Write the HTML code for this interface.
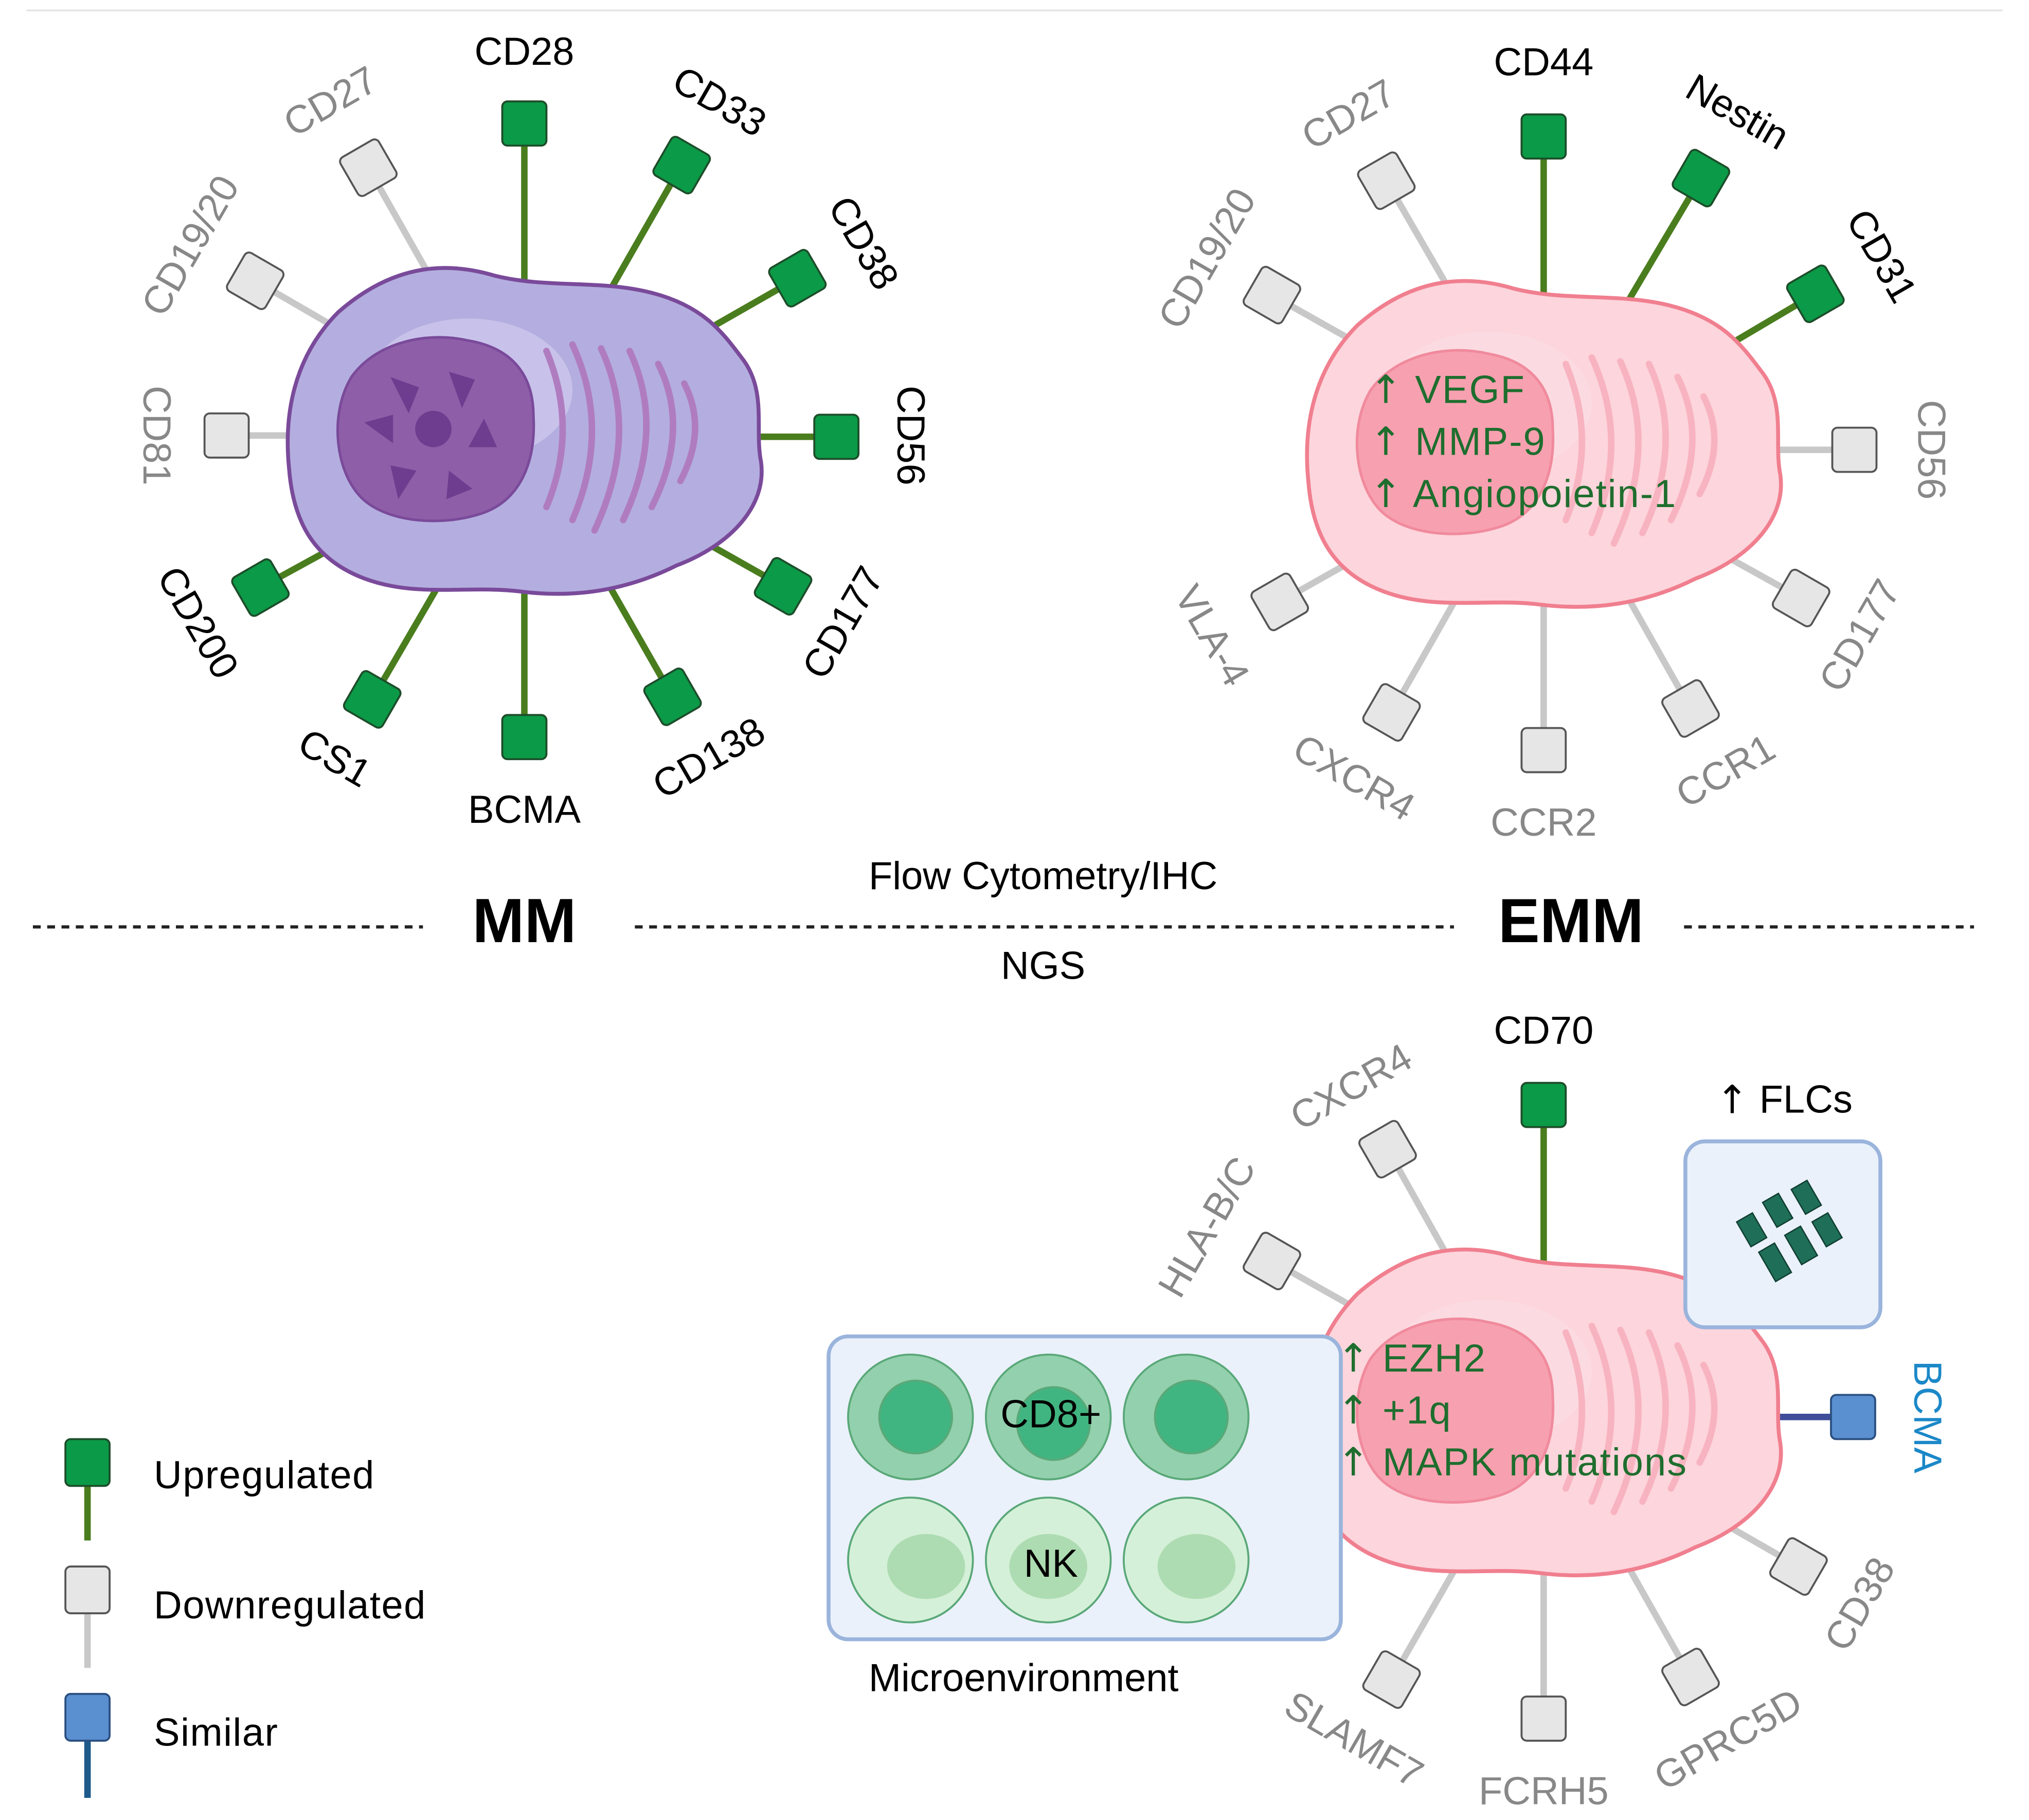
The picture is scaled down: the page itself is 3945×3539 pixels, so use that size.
<!DOCTYPE html>
<html><head><meta charset="utf-8"><style>
html,body{margin:0;padding:0;background:#fff;}
svg{display:block;}
text{font-family:"Liberation Sans",sans-serif;}
.ar{font-family:"DejaVu Sans",sans-serif;}
</style></head><body>
<svg width="3945" height="3539" viewBox="0 0 1560 1400" xmlns="http://www.w3.org/2000/svg">
<defs>
<path id="blob" d="M 260,240 C 300,205 340,200 380,212 C 420,222 460,215 500,225 C 540,235 555,255 570,275 C 590,300 580,330 585,355 C 590,390 560,420 520,435 C 480,455 440,460 400,455 C 360,450 320,460 280,445 C 240,430 225,400 222,360 C 218,320 225,275 260,240 Z"/>
<path id="nuc" d="M 270,290 C 290,262 330,255 360,262 C 395,268 410,290 410,320 C 412,355 400,385 370,395 C 340,405 300,402 280,385 C 258,366 252,320 270,290 Z"/>
<g id="er">
<path d="M420,270 q25,60 0,120" /><path d="M440,265 q30,65 0,135" /><path d="M462,268 q30,65 -5,140" /><path d="M484,270 q28,60 -5,130" /><path d="M506,280 q25,50 -5,110" /><path d="M526,295 q18,35 -3,75" />
</g>
</defs>
<rect width="1560" height="1400" fill="#fff"/>
<line x1="20" y1="8" x2="1540" y2="8" stroke="#e6e6e6" stroke-width="1.5"/>

<g stroke-width="5">
<line x1="403" y1="95" x2="403" y2="215" stroke="#4a7d1e"/>
<line x1="524" y1="127" x2="468" y2="225" stroke="#4a7d1e"/>
<line x1="613" y1="214" x2="550" y2="250" stroke="#4a7d1e"/>
<line x1="643" y1="336" x2="580" y2="336" stroke="#4a7d1e"/>
<line x1="602" y1="451" x2="540" y2="416" stroke="#4a7d1e"/>
<line x1="517" y1="536" x2="468" y2="450" stroke="#4a7d1e"/>
<line x1="403" y1="567" x2="403" y2="450" stroke="#4a7d1e"/>
<line x1="286" y1="538" x2="336" y2="452" stroke="#4a7d1e"/>
<line x1="200" y1="452" x2="262" y2="418" stroke="#4a7d1e"/>
<line x1="174" y1="335" x2="230" y2="335" stroke="#c8c8c8"/>
<line x1="196" y1="216" x2="258" y2="252" stroke="#c8c8c8"/>
<line x1="283" y1="129" x2="330" y2="212" stroke="#c8c8c8"/>
</g>
<use href="#blob" fill="#b3aedf" stroke="#7a4a9a" stroke-width="3"/>
<ellipse cx="360" cy="300" rx="80" ry="55" fill="#c8c2ea"/>
<use href="#nuc" fill="#8e5fa8" stroke="#7a4a9a" stroke-width="2"/>
<g fill="#6e3d8f"><circle cx="333" cy="330" r="14"/>
<path d="M300,290 l22,8 l-8,20 z"/><path d="M345,286 l20,6 l-10,22 z"/><path d="M372,322 l10,22 l-22,0 z"/><path d="M345,362 l18,14 l-20,8 z"/><path d="M300,358 l20,4 l-14,22 z"/><path d="M280,325 l22,-6 l0,22 z"/></g>
<g fill="none" stroke="#b07cc0" stroke-width="5" stroke-linecap="round"><use href="#er"/></g>

<g stroke-width="1.5">
<rect x="386" y="78" width="34" height="34" rx="4" fill="#0b9a47" stroke="#1d4d2a"/>
<rect x="507" y="110" width="34" height="34" rx="4" fill="#0b9a47" stroke="#1d4d2a" transform="rotate(30 524 127)"/>
<rect x="596" y="197" width="34" height="34" rx="4" fill="#0b9a47" stroke="#1d4d2a" transform="rotate(60 613 214)"/>
<rect x="626" y="319" width="34" height="34" rx="4" fill="#0b9a47" stroke="#1d4d2a"/>
<rect x="585" y="434" width="34" height="34" rx="4" fill="#0b9a47" stroke="#1d4d2a" transform="rotate(-60 602 451)"/>
<rect x="500" y="519" width="34" height="34" rx="4" fill="#0b9a47" stroke="#1d4d2a" transform="rotate(-30 517 536)"/>
<rect x="386" y="550" width="34" height="34" rx="4" fill="#0b9a47" stroke="#1d4d2a"/>
<rect x="269" y="521" width="34" height="34" rx="4" fill="#0b9a47" stroke="#1d4d2a" transform="rotate(30 286 538)"/>
<rect x="183" y="435" width="34" height="34" rx="4" fill="#0b9a47" stroke="#1d4d2a" transform="rotate(60 200 452)"/>
<rect x="157" y="318" width="34" height="34" rx="4" fill="#e6e6e6" stroke="#555"/>
<rect x="179" y="199" width="34" height="34" rx="4" fill="#e6e6e6" stroke="#555" transform="rotate(-60 196 216)"/>
<rect x="266" y="112" width="34" height="34" rx="4" fill="#e6e6e6" stroke="#555" transform="rotate(-30 283 129)"/>
</g>
<g font-size="30" text-anchor="middle" dominant-baseline="middle">
<text x="403" y="42">CD28</text>
<text x="552" y="80" transform="rotate(30 552 80)">CD33</text>
<text x="662" y="188" transform="rotate(60 662 188)">CD38</text>
<text x="698" y="335" transform="rotate(90 698 335)">CD56</text>
<text x="650" y="480" transform="rotate(-60 650 480)">CD177</text>
<text x="546" y="585" transform="rotate(-30 546 585)">CD138</text>
<text x="403" y="625">BCMA</text>
<text x="256" y="585" transform="rotate(30 256 585)">CS1</text>
<text x="150" y="480" transform="rotate(60 150 480)">CD200</text>
<g fill="#888"><text x="118" y="335" transform="rotate(90 118 335)">CD81</text>
<text x="148" y="190" transform="rotate(-60 148 190)">CD19/20</text>
<text x="255" y="80" transform="rotate(-30 255 80)">CD27</text></g>
</g>

<g stroke-width="5">
<line x1="1187" y1="105" x2="1187" y2="225" stroke="#4a7d1e"/>
<line x1="1308" y1="137" x2="1250" y2="235" stroke="#4a7d1e"/>
<line x1="1396" y1="226" x2="1335" y2="262" stroke="#4a7d1e"/>
<g stroke="#c8c8c8">
<line x1="1426" y1="346" x2="1365" y2="346"/>
<line x1="1385" y1="460" x2="1322" y2="425"/>
<line x1="1300" y1="545" x2="1252" y2="460"/>
<line x1="1187" y1="577" x2="1187" y2="460"/>
<line x1="1070" y1="548" x2="1120" y2="460"/>
<line x1="984" y1="463" x2="1046" y2="428"/>
<line x1="978" y1="227" x2="1040" y2="262"/>
<line x1="1066" y1="139" x2="1114" y2="222"/></g>
</g>
<g transform="translate(784,10)">
<use href="#blob" fill="#fdd5dc" stroke="#f07f8f" stroke-width="3"/>
<ellipse cx="360" cy="300" rx="80" ry="55" fill="#fbdbe1"/>
<use href="#nuc" fill="#f7a0b0" stroke="#f08a9c" stroke-width="2"/>
<g fill="none" stroke="#f8b3c0" stroke-width="5" stroke-linecap="round"><use href="#er"/></g>
</g>
<g stroke-width="1.5">
<rect x="1170" y="88" width="34" height="34" rx="4" fill="#0b9a47" stroke="#1d4d2a"/>
<rect x="1291" y="120" width="34" height="34" rx="4" fill="#0b9a47" stroke="#1d4d2a" transform="rotate(30 1308 137)"/>
<rect x="1379" y="209" width="34" height="34" rx="4" fill="#0b9a47" stroke="#1d4d2a" transform="rotate(60 1396 226)"/>
<g fill="#e6e6e6" stroke="#555">
<rect x="1409" y="329" width="34" height="34" rx="4"/>
<rect x="1368" y="443" width="34" height="34" rx="4" transform="rotate(-60 1385 460)"/>
<rect x="1283" y="528" width="34" height="34" rx="4" transform="rotate(-30 1300 545)"/>
<rect x="1170" y="560" width="34" height="34" rx="4"/>
<rect x="1053" y="531" width="34" height="34" rx="4" transform="rotate(30 1070 548)"/>
<rect x="967" y="446" width="34" height="34" rx="4" transform="rotate(60 984 463)"/>
<rect x="961" y="210" width="34" height="34" rx="4" transform="rotate(-60 978 227)"/>
<rect x="1049" y="122" width="34" height="34" rx="4" transform="rotate(-30 1066 139)"/></g>
</g>
<g font-size="30" text-anchor="middle" dominant-baseline="middle">
<text x="1187" y="50">CD44</text>
<text x="1335" y="88" transform="rotate(30 1335 88)">Nestin</text>
<text x="1445" y="198" transform="rotate(60 1445 198)">CD31</text>
<g fill="#888">
<text x="1483" y="346" transform="rotate(90 1483 346)">CD56</text>
<text x="1432" y="490" transform="rotate(-60 1432 490)">CD177</text>
<text x="1328" y="595" transform="rotate(-30 1328 595)">CCR1</text>
<text x="1187" y="635">CCR2</text>
<text x="1040" y="600" transform="rotate(30 1040 600)">CXCR4</text>
<text x="930" y="490" transform="rotate(60 930 490)">VLA-4</text>
<text x="930" y="200" transform="rotate(-60 930 200)">CD19/20</text>
<text x="1038" y="90" transform="rotate(-30 1038 90)">CD27</text></g>
</g>
<g font-size="30" fill="#1e6e2e" letter-spacing="0.8">
<text x="1053" y="310"><tspan class="ar">↑</tspan> VEGF</text><text x="1053" y="350"><tspan class="ar">↑</tspan> MMP-9</text><text x="1053" y="390"><tspan class="ar">↑</tspan> Angiopoietin-1</text>
</g>

<g stroke="#222" stroke-width="2.5" stroke-dasharray="6,5">
<line x1="25" y1="713" x2="325" y2="713"/><line x1="488" y1="713" x2="1118" y2="713"/><line x1="1295" y1="713" x2="1518" y2="713"/></g>
<g text-anchor="middle" dominant-baseline="middle">
<text x="802" y="676" font-size="30">Flow Cytometry/IHC</text>
<text x="802" y="745" font-size="30">NGS</text>
<text x="403" y="712" font-size="48" font-weight="bold">MM</text>
<text x="1208" y="712" font-size="48" font-weight="bold">EMM</text>
</g>

<g stroke-width="5">
<line x1="1187" y1="850" x2="1187" y2="975" stroke="#4a7d1e"/>
<line x1="1425" y1="1090" x2="1365" y2="1090" stroke="#3f4d9a"/>
<g stroke="#c8c8c8">
<line x1="1067" y1="884" x2="1114" y2="968"/>
<line x1="978" y1="970" x2="1040" y2="1005"/>
<line x1="1383" y1="1205" x2="1322" y2="1170"/>
<line x1="1300" y1="1290" x2="1252" y2="1205"/>
<line x1="1187" y1="1322" x2="1187" y2="1205"/>
<line x1="1070" y1="1292" x2="1120" y2="1205"/></g>
</g>
<g transform="translate(784,755)">
<use href="#blob" fill="#fdd5dc" stroke="#f07f8f" stroke-width="3"/>
<ellipse cx="360" cy="300" rx="80" ry="55" fill="#fbdbe1"/>
<use href="#nuc" fill="#f7a0b0" stroke="#f08a9c" stroke-width="2"/>
<g fill="none" stroke="#f8b3c0" stroke-width="5" stroke-linecap="round"><use href="#er"/></g>
</g>
<g stroke-width="1.5">
<rect x="1170" y="833" width="34" height="34" rx="4" fill="#0b9a47" stroke="#1d4d2a"/>
<rect x="1408" y="1073" width="34" height="34" rx="4" fill="#5a8fd0" stroke="#2a4f80"/>
<g fill="#e6e6e6" stroke="#555">
<rect x="1050" y="867" width="34" height="34" rx="4" transform="rotate(-30 1067 884)"/>
<rect x="961" y="953" width="34" height="34" rx="4" transform="rotate(-60 978 970)"/>
<rect x="1366" y="1188" width="34" height="34" rx="4" transform="rotate(-60 1383 1205)"/>
<rect x="1283" y="1273" width="34" height="34" rx="4" transform="rotate(-30 1300 1290)"/>
<rect x="1170" y="1305" width="34" height="34" rx="4"/>
<rect x="1053" y="1275" width="34" height="34" rx="4" transform="rotate(30 1070 1292)"/></g>
</g>
<g font-size="30" text-anchor="middle" dominant-baseline="middle">
<text x="1187" y="795">CD70</text>
<text x="1480" y="1090" fill="#1b88c8" transform="rotate(90 1480 1090)">BCMA</text>
<g fill="#888">
<text x="1040" y="838" transform="rotate(-30 1040 838)">CXCR4</text>
<text x="930" y="945" transform="rotate(-60 930 945)">HLA-B/C</text>
<text x="1432" y="1235" transform="rotate(-60 1432 1235)">CD38</text>
<text x="1330" y="1340" transform="rotate(-30 1330 1340)">GPRC5D</text>
<text x="1187" y="1380">FCRH5</text>
<text x="1040" y="1340" transform="rotate(30 1040 1340)">SLAMF7</text></g>
<text x="1372" y="848"><tspan class="ar">↑</tspan> FLCs</text>
<text x="787" y="1293">Microenvironment</text>
</g>
<g font-size="30" fill="#1e6e2e" letter-spacing="0.8">
<text x="1028" y="1055"><tspan class="ar">↑</tspan> EZH2</text><text x="1028" y="1095"><tspan class="ar">↑</tspan> +1q</text><text x="1028" y="1135"><tspan class="ar">↑</tspan> MAPK mutations</text>
</g>

<rect x="1296" y="878" width="150" height="143" rx="15" fill="#eaf1fb" stroke="#9ab4dc" stroke-width="3"/>
<g fill="#1f6e58" stroke="#0f3d30" stroke-width="1">
<rect x="1340" y="935" width="14" height="22" transform="rotate(-30 1347 946)"/>
<rect x="1358" y="958" width="14" height="26" transform="rotate(-30 1365 971)"/>
<rect x="1360" y="920" width="14" height="22" transform="rotate(-30 1367 931)"/>
<rect x="1378" y="945" width="14" height="26" transform="rotate(-30 1385 958)"/>
<rect x="1382" y="910" width="14" height="22" transform="rotate(-30 1389 921)"/>
<rect x="1398" y="935" width="14" height="22" transform="rotate(-30 1405 946)"/>
</g>

<rect x="637" y="1028" width="394" height="233" rx="15" fill="#eaf1fb" stroke="#9ab4dc" stroke-width="3"/>
<g stroke="#5aa878" stroke-width="1.5">
<circle cx="700" cy="1090" r="48" fill="#93d0ad"/><circle cx="704" cy="1090" r="28" fill="#41b581"/>
<circle cx="806" cy="1090" r="48" fill="#93d0ad"/><circle cx="810" cy="1095" r="28" fill="#41b581"/>
<circle cx="912" cy="1090" r="48" fill="#93d0ad"/><circle cx="916" cy="1090" r="28" fill="#41b581"/>
<circle cx="700" cy="1200" r="48" fill="#d5f0d9"/><ellipse cx="712" cy="1205" rx="30" ry="25" fill="#aedcb2" stroke="none"/>
<circle cx="806" cy="1200" r="48" fill="#d5f0d9"/><ellipse cx="806" cy="1205" rx="30" ry="25" fill="#aedcb2" stroke="none"/>
<circle cx="912" cy="1200" r="48" fill="#d5f0d9"/><ellipse cx="920" cy="1205" rx="30" ry="25" fill="#aedcb2" stroke="none"/>
</g>
<g font-size="30" text-anchor="middle" dominant-baseline="middle">
<text x="808" y="1090">CD8+</text><text x="808" y="1205">NK</text></g>

<g stroke-width="5">
<line x1="67" y1="1130" x2="67" y2="1185" stroke="#4a7d1e"/>
<line x1="67" y1="1228" x2="67" y2="1283" stroke="#c8c8c8"/>
<line x1="67" y1="1326" x2="67" y2="1383" stroke="#1e5a8a"/>
</g>
<rect x="50" y="1107" width="34" height="36" rx="4" fill="#0b9a47" stroke="#1d4d2a" stroke-width="1.5"/>
<rect x="50" y="1205" width="34" height="36" rx="4" fill="#e6e6e6" stroke="#555" stroke-width="1.5"/>
<rect x="50" y="1303" width="34" height="36" rx="4" fill="#5a8fd0" stroke="#2a4f80" stroke-width="1.5"/>
<g font-size="30" dominant-baseline="middle" letter-spacing="0.6">
<text x="118" y="1137">Upregulated</text><text x="118" y="1237">Downregulated</text><text x="118" y="1335">Similar</text></g>
</svg>
</body></html>
